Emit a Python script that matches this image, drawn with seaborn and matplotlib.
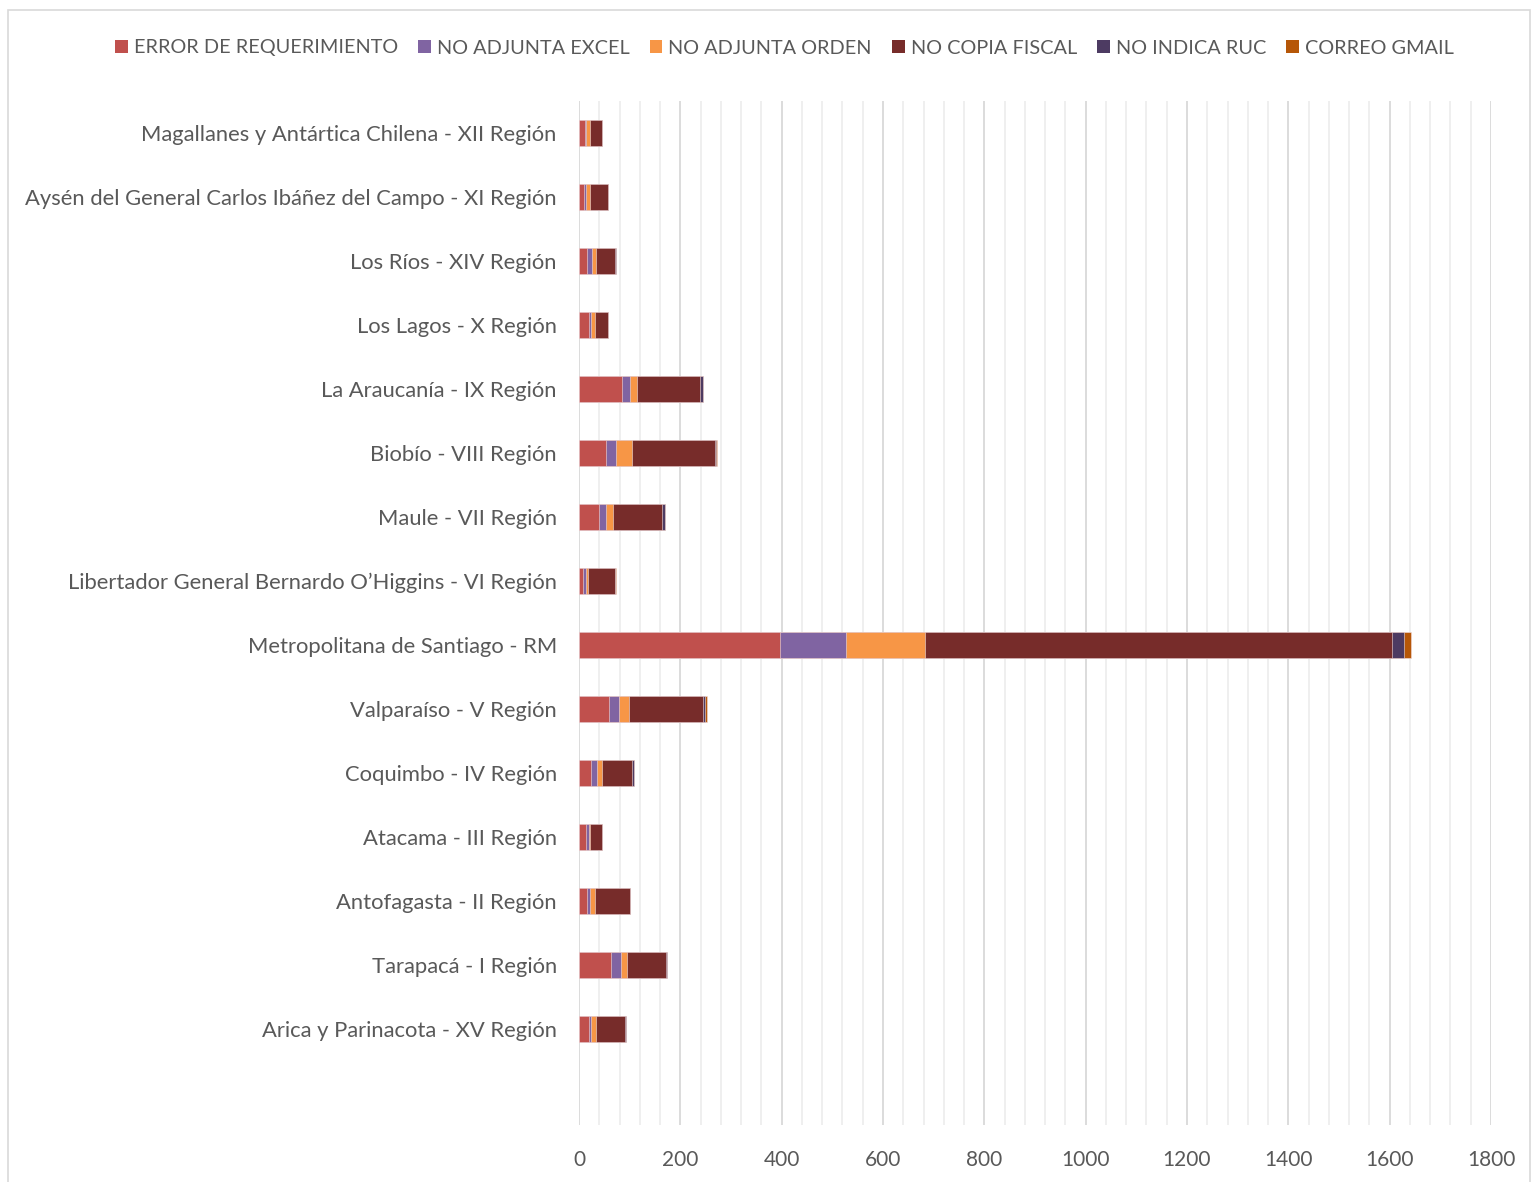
import matplotlib
matplotlib.use("Agg")
import matplotlib.pyplot as plt
from matplotlib.patches import Rectangle, Patch
from matplotlib.ticker import MultipleLocator
import pandas as pd
import seaborn as sns

regiones = [
    "Magallanes y Antártica Chilena - XII Región",
    "Aysén del General Carlos Ibáñez del Campo - XI Región",
    "Los Ríos - XIV Región",
    "Los Lagos - X Región",
    "La Araucanía - IX Región",
    "Biobío - VIII Región",
    "Maule - VII Región",
    "Libertador General Bernardo O’Higgins - VI Región",
    "Metropolitana de Santiago - RM",
    "Valparaíso - V Región",
    "Coquimbo - IV Región",
    "Atacama - III Región",
    "Antofagasta - II Región",
    "Tarapacá - I Región",
    "Arica y Parinacota - XV Región",
]

error_req = [12, 10, 15, 20, 84, 54, 39, 8, 397, 60, 24, 14, 15, 64, 19]
no_excel = [1, 4, 11, 3, 16, 20, 15, 5, 130, 18, 11, 5, 7, 19, 5]
no_orden = [8, 8, 8, 9, 15, 31, 13, 4, 155, 20, 10, 3, 10, 12, 10]
no_fiscal = [24, 35, 38, 25, 124, 164, 97, 55, 923, 147, 60, 23, 68, 76, 57]
no_ruc = [0, 1, 1, 1, 5, 2, 5, 0, 24, 4, 3, 1, 1, 2, 1]
correo_gmail = [0, 0, 0, 0, 0, 2, 0, 1, 14, 3, 0, 0, 0, 0, 0]

series = ["ERROR DE REQUERIMIENTO", "NO ADJUNTA EXCEL", "NO ADJUNTA ORDEN",
          "NO COPIA FISCAL", "NO INDICA RUC", "CORREO GMAIL"]
colores = ["#C0504D", "#8064A2", "#F79646", "#772C2A", "#4D3B62", "#B65708"]

df = pd.DataFrame({
    "region": regiones,
    series[0]: error_req,
    series[1]: no_excel,
    series[2]: no_orden,
    series[3]: no_fiscal,
    series[4]: no_ruc,
    series[5]: correo_gmail,
})
acum = df[series].cumsum(axis=1)
acum["region"] = df["region"]

plt.rcParams["font.family"] = ["Lato", "DejaVu Sans"]
texto = "#595959"

fig = plt.figure(figsize=(15.35, 11.82), dpi=100)
ax = fig.add_axes([579 / 1535, 1 - 1125 / 1182, (1491 - 579) / 1535, (1125 - 101) / 1182])

# stacked bars: draw cumulative totals from the last series back to the first
for nombre, color in reversed(list(zip(series, colores))):
    sns.barplot(data=acum, x=nombre, y="region", order=regiones, color=color,
                saturation=1, width=0.4, orient="h", edgecolor="#f2dede",
                linewidth=0.4, ax=ax)

ax.set_xlim(0, 1800)
ax.set_ylim(15.5, -0.5)
ax.xaxis.set_major_locator(MultipleLocator(200))
ax.xaxis.set_minor_locator(MultipleLocator(40))
ax.grid(which="major", axis="x", color="#d9d9d9", linewidth=1.3)
ax.grid(which="minor", axis="x", color="#eeeeee", linewidth=1.3)
ax.set_axisbelow(True)
for s in ax.spines.values():
    s.set_visible(False)
ax.tick_params(axis="both", which="both", length=0, colors=texto)
ax.tick_params(axis="y", labelsize=15.8, pad=16)
ax.tick_params(axis="x", labelsize=15, pad=18)
ax.set_xlabel("")
ax.set_ylabel("")

handles = [Patch(facecolor=c, label=n) for n, c in zip(series, colores)]
fig.legend(handles=handles, loc="center", bbox_to_anchor=(0.511, 1 - 48 / 1182),
           ncol=6, frameon=False, fontsize=14.3, handlelength=0.65, handleheight=0.65,
           handletextpad=0.3, columnspacing=1.0, labelcolor=texto)

fig.patches.append(Rectangle((8 / 1535, -0.01), (1530 - 8) / 1535, 1.01 - 10 / 1182,
                             transform=fig.transFigure, fill=False,
                             edgecolor="#d9d9d9", linewidth=1.2))

fig.savefig("out.png", dpi=100)
